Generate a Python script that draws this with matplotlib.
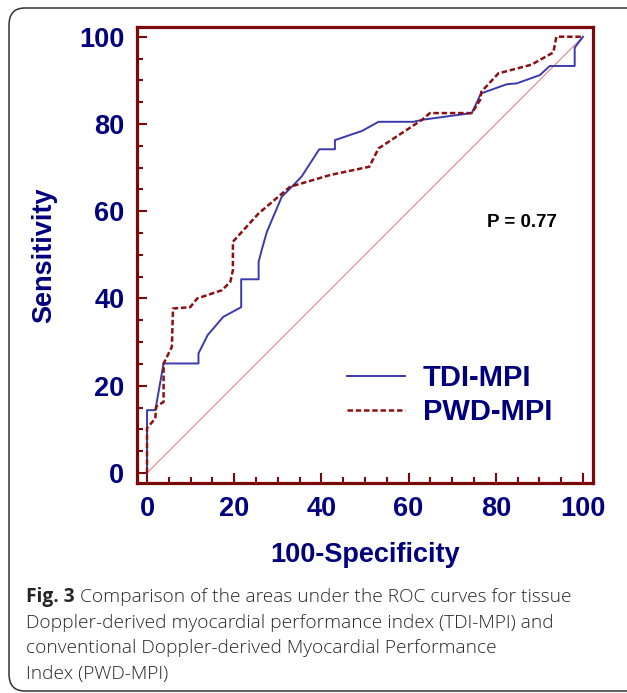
import matplotlib
matplotlib.use('Agg')
import matplotlib.pyplot as plt
from matplotlib.patches import FancyBboxPatch
from matplotlib.ticker import MultipleLocator

# ROC points (100-Specificity, Sensitivity)
tdi_x = [0, 0, 1.9, 3.8, 11.8, 11.8, 13.9, 17.5, 21.6, 21.6, 25.6, 25.6, 26.3, 27.5,
         30.9, 33.6, 35.5, 39.5, 43.1, 43.1, 49.3, 53.1, 61.1, 63.4, 74.5, 76.6,
         82.5, 84.8, 90.1, 92.4, 98.1, 98.1, 100]
tdi_y = [0, 14.4, 14.4, 25.1, 25.1, 27.4, 31.6, 35.8, 38.0, 44.4, 44.4, 48.4, 51.1, 55.3,
         63.3, 66.0, 68.0, 74.2, 74.2, 76.3, 78.4, 80.5, 80.5, 81.0, 82.5, 87.0,
         89.1, 89.3, 91.2, 93.3, 93.3, 97.5, 100]

pwd_x = [0, 0, 1.9, 2.1, 3.8, 3.8, 5.7, 5.96, 9.9, 11.5, 17.2, 19.1, 19.7, 19.7,
         25.6, 32.8, 42.0, 51.0, 53.1, 63.0, 64.9, 74.5, 76.4, 76.7, 80.6, 88.2,
         93.2, 93.9, 100]
pwd_y = [0, 10.3, 12.5, 15.2, 16.3, 25.1, 28.9, 37.7, 38.0, 40.0, 41.9, 43.8, 46.5, 53.0,
         59.5, 65.6, 68.3, 70.2, 74.4, 80.9, 82.5, 82.5, 85.5, 87.4, 91.6, 93.6,
         96.4, 100, 100]

ref_line = [0, 100]
tick_vals = [0, 20, 40, 60, 80, 100]
series_names = ['TDI-MPI', 'PWD-MPI']
p_text = 'P = 0.77'

caption_bold = 'Fig. 3'
caption_lines = [' Comparison of the areas under the ROC curves for tissue',
                 'Doppler-derived myocardial performance index (TDI-MPI) and',
                 'conventional Doppler-derived Myocardial Performance',
                 'Index (PWD-MPI)']

W, H = 627, 693
navy = '#00007f'
dred = '#7a0a0a'

fig = plt.figure(figsize=(W / 100, H / 100), dpi=100)

# outer rounded frame
frame = FancyBboxPatch((9 / W, 1 - 691 / H), 640 / W, 683 / H,
                       boxstyle='round,pad=0,rounding_size=0.025',
                       transform=fig.transFigure, fill=False,
                       edgecolor='#333333', linewidth=1.1)
fig.patches.append(frame)

ax = fig.add_axes([137 / W, 1 - 483 / H, 456 / W, 456.3 / H])
ax.set_xlim(-2.3, 102.3)
ax.set_ylim(-2.3, 102.3)

ax.plot(ref_line, ref_line, color='#d47878', lw=0.7)
ax.plot(tdi_x, tdi_y, color='#3a3aae', lw=1.4, label=series_names[0])
ax.plot(pwd_x, pwd_y, color='#8b1010', lw=1.8, linestyle=(0, (2.2, 1.1)),
        label=series_names[1])

for s in ax.spines.values():
    s.set_color(dred)
    s.set_linewidth(2.3)

ax.set_xticks(tick_vals)
ax.set_yticks(tick_vals)
ax.xaxis.set_minor_locator(MultipleLocator(5))
ax.yaxis.set_minor_locator(MultipleLocator(5))
ax.tick_params(which='both', direction='in', color=dred, width=1.5,
               top=False, right=False)
ax.tick_params(which='major', length=7)
ax.tick_params(which='minor', length=4)
ax.tick_params(axis='x', which='major', pad=9)
ax.tick_params(axis='y', which='major', pad=9)
for lab in ax.get_xticklabels() + ax.get_yticklabels():
    lab.set_fontfamily('Liberation Sans')
    lab.set_fontweight('bold')
    lab.set_fontsize(19.5)
    lab.set_color(navy)

ax.set_xlabel('100-Specificity', fontfamily='Liberation Sans', fontweight='bold',
              fontsize=19.5, color=navy)
ax.set_ylabel('Sensitivity', fontfamily='Liberation Sans', fontweight='bold',
              fontsize=19.5, color=navy)
ax.xaxis.set_label_coords(0.5, -0.13)
ax.yaxis.set_label_coords(-0.175, 0.5)

ax.text(0.7675, 0.570, p_text, transform=ax.transAxes, fontfamily='Liberation Sans',
        fontweight='bold', fontsize=13.5, color='black', va='center', ha='left')

leg = ax.legend(loc='upper left', bbox_to_anchor=(0.4605, 0.2608), frameon=False,
                borderpad=0, borderaxespad=0, handlelength=2.0, handletextpad=0.6,
                labelspacing=0.2, prop={'family': 'Liberation Sans', 'weight': 'bold',
                                        'size': 21})
for t in leg.get_texts():
    t.set_color(navy)

# caption
cap_font = dict(fontfamily='Open Sans', fontsize=13.8, color='#262626', va='center')
fig.canvas.draw()
renderer = fig.canvas.get_renderer()
fb = fig.text(26 / W, 1 - 597 / H, caption_bold, fontweight='bold', **cap_font)
bw = fb.get_window_extent(renderer).width
line_y = [597, 622.5, 648, 674]
for i, line in enumerate(caption_lines):
    x0 = 26 + (bw if i == 0 else 0)
    fig.text(x0 / W, 1 - line_y[i] / H, line, fontweight='light', **cap_font)

fig.savefig('out.png', dpi=100)
